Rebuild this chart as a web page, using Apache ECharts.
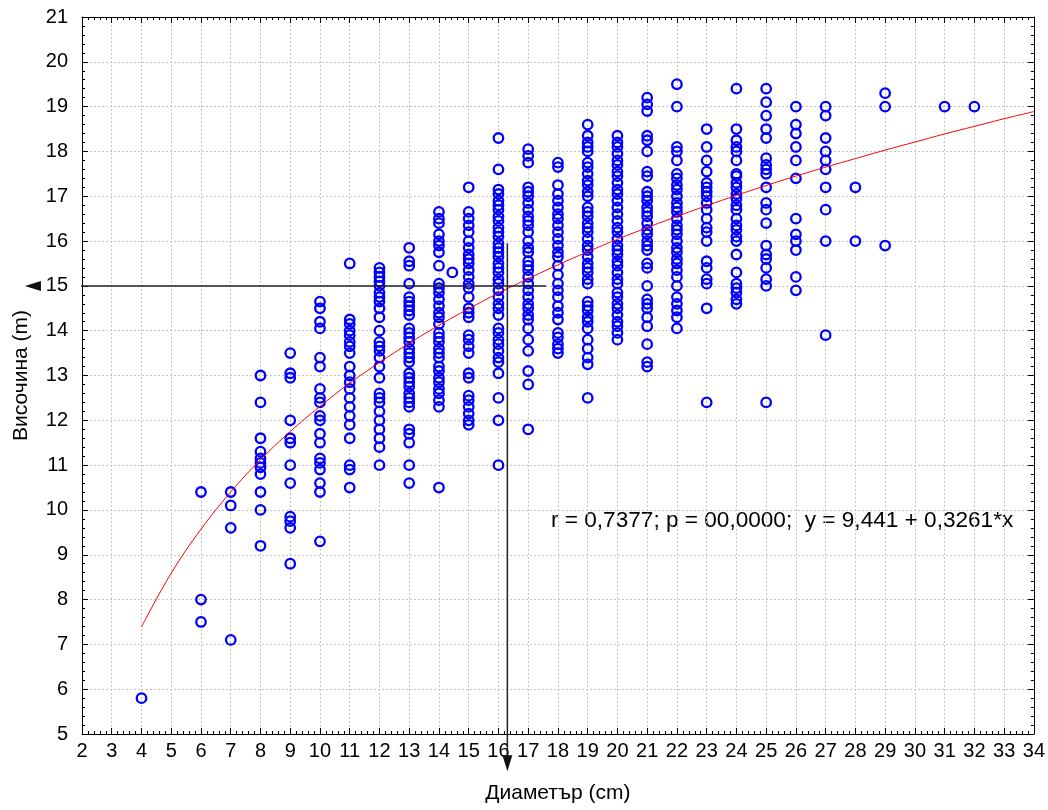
<!DOCTYPE html>
<html><head><meta charset="utf-8">
<script src="https://cdn.jsdelivr.net/npm/echarts@6/dist/echarts.min.js"></script>
<style>html,body{margin:0;padding:0;background:#fff}#c{width:1048px;height:810px}</style>
</head><body><div id="c"></div>
<script>
// Diameter (cm) columns and the heights (m) observed at each
const diameters = [4, 6, 7, 8, 9, 10, 11, 12, 13, 14, 14.45, 15, 16, 17, 18, 19, 20, 21, 22, 23, 24, 25, 26, 27, 28, 29, 31, 32];
const heights = [
  [5.8],
  [10.4, 8.0, 7.5],
  [10.4, 10.1, 9.6, 7.1],
  [13.0, 12.4, 11.6, 11.3, 11.15, 11.05, 10.95, 10.8, 10.4, 10.0, 9.2],
  [13.5, 13.05, 12.95, 12.0, 11.6, 11.5, 11.0, 10.6, 9.85, 9.75, 9.6, 8.8],
  [14.65, 14.5, 14.2, 14.05, 13.4, 13.2, 12.7, 12.5, 12.4, 12.1, 12.0, 11.7, 11.5, 11.15, 11.05, 10.9, 10.6, 10.4, 9.3],
  [15.5, 14.25, 14.15, 14.0, 13.9, 13.75, 13.65, 13.5, 13.2, 13.0, 12.85, 12.7, 12.5, 12.3, 12.1, 11.9, 11.6, 11.0, 10.9, 10.5],
  [15.4, 15.3, 15.2, 15.1, 15.0, 14.85, 14.75, 14.65, 14.5, 14.3, 14.0, 13.75, 13.65, 13.55, 13.4, 13.2, 12.95, 12.6, 12.5, 12.4, 12.2, 12.0, 11.8, 11.6, 11.4, 11.0],
  [15.85, 15.55, 15.45, 15.05, 14.75, 14.65, 14.55, 14.45, 14.35, 14.05, 13.95, 13.85, 13.75, 13.6, 13.5, 13.4, 13.3, 13.05, 12.95, 12.85, 12.75, 12.6, 12.5, 12.4, 12.3, 11.8, 11.7, 11.5, 11.0, 10.6],
  [16.65, 16.5, 16.4, 16.15, 16.0, 15.9, 15.75, 15.45, 15.05, 14.95, 14.85, 14.7, 14.55, 14.4, 14.3, 14.15, 13.95, 13.85, 13.75, 13.6, 13.5, 13.4, 13.2, 13.1, 12.95, 12.85, 12.7, 12.6, 12.45, 12.3, 10.5],
  [15.3],
  [17.2, 16.65, 16.5, 16.35, 16.2, 16.0, 15.85, 15.7, 15.6, 15.5, 15.35, 15.2, 15.05, 14.95, 14.75, 14.5, 14.4, 14.3, 13.9, 13.8, 13.65, 13.5, 13.05, 12.95, 12.55, 12.45, 12.3, 12.15, 12.0, 11.9],
  [18.3, 17.6, 17.15, 17.05, 16.9, 16.8, 16.7, 16.55, 16.45, 16.3, 16.2, 16.1, 15.95, 15.85, 15.75, 15.65, 15.5, 15.4, 15.3, 15.15, 15.05, 14.9, 14.75, 14.6, 14.5, 14.35, 14.05, 13.95, 13.8, 13.7, 13.55, 13.4, 13.3, 13.05, 12.5, 12.0, 11.0],
  [18.05, 17.9, 17.75, 17.2, 17.1, 17.0, 16.85, 16.7, 16.55, 16.45, 16.35, 16.2, 16.0, 15.85, 15.75, 15.55, 15.45, 15.35, 15.2, 15.05, 14.9, 14.75, 14.6, 14.5, 14.35, 14.25, 14.05, 13.8, 13.55, 13.1, 12.8, 11.8],
  [17.75, 17.65, 17.25, 17.05, 16.9, 16.75, 16.6, 16.5, 16.35, 16.2, 16.05, 15.9, 15.75, 15.65, 15.45, 15.25, 15.05, 14.9, 14.75, 14.55, 14.4, 14.25, 13.95, 13.85, 13.7, 13.6, 13.5],
  [18.6, 18.35, 18.2, 18.1, 18.0, 17.75, 17.65, 17.5, 17.35, 17.25, 17.1, 17.0, 16.75, 16.65, 16.55, 16.4, 16.3, 16.2, 16.05, 15.9, 15.8, 15.65, 15.5, 15.4, 15.3, 15.15, 15.05, 14.65, 14.55, 14.45, 14.3, 14.2, 14.05, 13.8, 13.6, 13.4, 13.25, 12.5],
  [18.35, 18.2, 18.1, 17.95, 17.8, 17.7, 17.55, 17.45, 17.3, 17.15, 17.05, 16.9, 16.75, 16.6, 16.45, 16.3, 16.2, 16.05, 15.9, 15.8, 15.7, 15.55, 15.45, 15.3, 15.15, 15.05, 14.85, 14.75, 14.6, 14.5, 14.35, 14.2, 14.1, 13.95, 13.8],
  [19.2, 19.05, 18.9, 18.35, 18.25, 18.0, 17.55, 17.45, 17.1, 17.0, 16.9, 16.75, 16.65, 16.55, 16.4, 16.25, 16.15, 16.0, 15.9, 15.8, 15.5, 15.4, 15.0, 14.7, 14.6, 14.5, 14.3, 14.1, 13.7, 13.3, 13.2],
  [19.5, 19.0, 18.1, 18.0, 17.8, 17.5, 17.4, 17.25, 17.15, 17.0, 16.85, 16.75, 16.65, 16.5, 16.35, 16.25, 16.15, 16.0, 15.85, 15.75, 15.6, 15.5, 15.35, 15.2, 15.0, 14.75, 14.6, 14.45, 14.3, 14.05],
  [18.5, 18.1, 17.8, 17.55, 17.3, 17.2, 17.1, 17.0, 16.85, 16.7, 16.5, 16.3, 16.2, 16.0, 15.55, 15.4, 15.15, 15.05, 14.5, 12.4],
  [19.4, 18.5, 18.25, 18.1, 18.0, 17.8, 17.5, 17.45, 17.3, 17.2, 17.05, 16.95, 16.8, 16.7, 16.5, 16.35, 16.25, 16.1, 16.0, 15.7, 15.3, 15.05, 14.95, 14.85, 14.7, 14.6],
  [19.4, 19.1, 18.8, 18.5, 18.3, 17.85, 17.7, 17.6, 17.5, 17.2, 16.85, 16.7, 16.4, 15.9, 15.7, 15.6, 15.4, 15.15, 15.0, 12.4],
  [19.0, 18.6, 18.4, 18.1, 17.8, 17.4, 16.5, 16.15, 16.0, 15.8, 15.2, 14.9],
  [19.0, 18.8, 18.3, 18.0, 17.8, 17.6, 17.2, 16.7, 16.0, 13.9],
  [17.2, 16.0],
  [19.3, 19.0, 15.9],
  [19.0],
  [19.0]
];
// Fitted curve at each diameter
const curveX = [4, 5, 6, 7, 8, 9, 10, 11, 12, 13, 14, 15, 16, 17, 18, 19, 20, 21, 22, 23, 24, 25, 26, 27, 28, 29, 30, 31, 32, 33, 34];
const curveY = [7.39, 8.59, 9.57, 10.4, 11.12, 11.75, 12.31, 12.83, 13.29, 13.72, 14.12, 14.49, 14.84, 15.16, 15.47, 15.76, 16.04, 16.3, 16.55, 16.79, 17.02, 17.24, 17.45, 17.65, 17.84, 18.03, 18.21, 18.39, 18.56, 18.73, 18.89];
// Reading guide: horizontal at height 15, vertical at diameter ~16.3
const guideH = [[17.6, 15], [0.35, 15]];
const guideV = [[16.3, 15.95], [16.3, 4.35]];
const statsText = 'r = 0,7377; p = 00,0000;  y = 9,441 + 0,3261*x';

const points = [];
diameters.forEach((d, i) => heights[i].forEach(h => points.push([d, h])));

const FONT = 'Liberation Sans, Arial, sans-serif';
const chart = echarts.init(document.getElementById('c'), null, {renderer: 'canvas'});

const tickCommon = {inside: true, length: 6, lineStyle: {color: '#000', width: 1}};
const minorCommon = {show: true, length: 3, lineStyle: {color: '#000', width: 1}};

chart.setOption({
  animation: false,
  backgroundColor: '#fff',
  grid: {left: 82, top: 17, width: 952, height: 717, containLabel: false},
  xAxis: [{
    type: 'value', min: 2, max: 34, interval: 1,
    name: 'Диаметър (cm)', nameLocation: 'middle', nameGap: 49,
    nameTextStyle: {fontFamily: FONT, fontSize: 21, color: '#000'},
    axisLine: {show: true, onZero: false, lineStyle: {color: '#000', width: 1}},
    axisTick: tickCommon, minorTick: Object.assign({splitNumber: 5}, minorCommon),
    axisLabel: {fontFamily: FONT, fontSize: 20, color: '#000', margin: 7},
    splitLine: {show: true, lineStyle: {color: '#c4c4c4', type: [2, 2], width: 1}}
  }, {
    type: 'value', min: 2, max: 34, interval: 1, position: 'top',
    axisLine: {show: true, onZero: false, lineStyle: {color: '#000', width: 1}},
    axisTick: tickCommon, minorTick: Object.assign({splitNumber: 5}, minorCommon),
    axisLabel: {show: false}, splitLine: {show: false}
  }],
  yAxis: [{
    type: 'value', min: 5, max: 21, interval: 1,
    name: 'Височина (m)', nameLocation: 'middle', nameGap: 50, nameRotate: 90,
    nameTextStyle: {fontFamily: FONT, fontSize: 21, color: '#000'},
    axisLine: {show: true, onZero: false, lineStyle: {color: '#000', width: 1}},
    axisTick: tickCommon, minorTick: Object.assign({splitNumber: 5}, minorCommon),
    axisLabel: {fontFamily: FONT, fontSize: 20, color: '#000', margin: 14},
    splitLine: {show: true, lineStyle: {color: '#c4c4c4', type: [2, 2], width: 1}}
  }, {
    type: 'value', min: 5, max: 21, interval: 1, position: 'right',
    axisLine: {show: true, onZero: false, lineStyle: {color: '#000', width: 1}},
    axisTick: tickCommon, minorTick: Object.assign({splitNumber: 5}, minorCommon),
    axisLabel: {show: false}, splitLine: {show: false}
  }],
  series: [{
    type: 'scatter', data: points, symbol: 'circle', symbolSize: 9.5,
    itemStyle: {color: 'rgba(0,0,0,0)', borderColor: '#0000ff', borderWidth: 2.3, opacity: 1},
    z: 2, silent: true
  }, {
    type: 'line', data: curveX.map((x, i) => [x, curveY[i]]), smooth: 0.4,
    showSymbol: false, symbol: 'none', lineStyle: {color: '#ff0000', width: 1}, z: 3, silent: true
  }, {
    type: 'line', clip: false, z: 4, silent: true,
    data: [{value: guideH[0], symbol: 'none'}, {value: guideH[1], symbol: 'triangle', symbolRotate: 90, symbolSize: [10, 16]}],
    showSymbol: true, itemStyle: {color: '#111'}, lineStyle: {color: '#222', width: 1.5}
  }, {
    type: 'line', clip: false, z: 4, silent: true,
    data: [{value: guideV[0], symbol: 'none'}, {value: guideV[1], symbol: 'triangle', symbolRotate: 180, symbolSize: [10, 16]}],
    showSymbol: true, itemStyle: {color: '#111'}, lineStyle: {color: '#222', width: 1.5}
  }],
  graphic: [{
    type: 'text', left: 551, top: 509,
    style: {text: statsText, fontFamily: FONT, fontSize: 22.6, fill: '#000'}
  }]
});
</script></body></html>
